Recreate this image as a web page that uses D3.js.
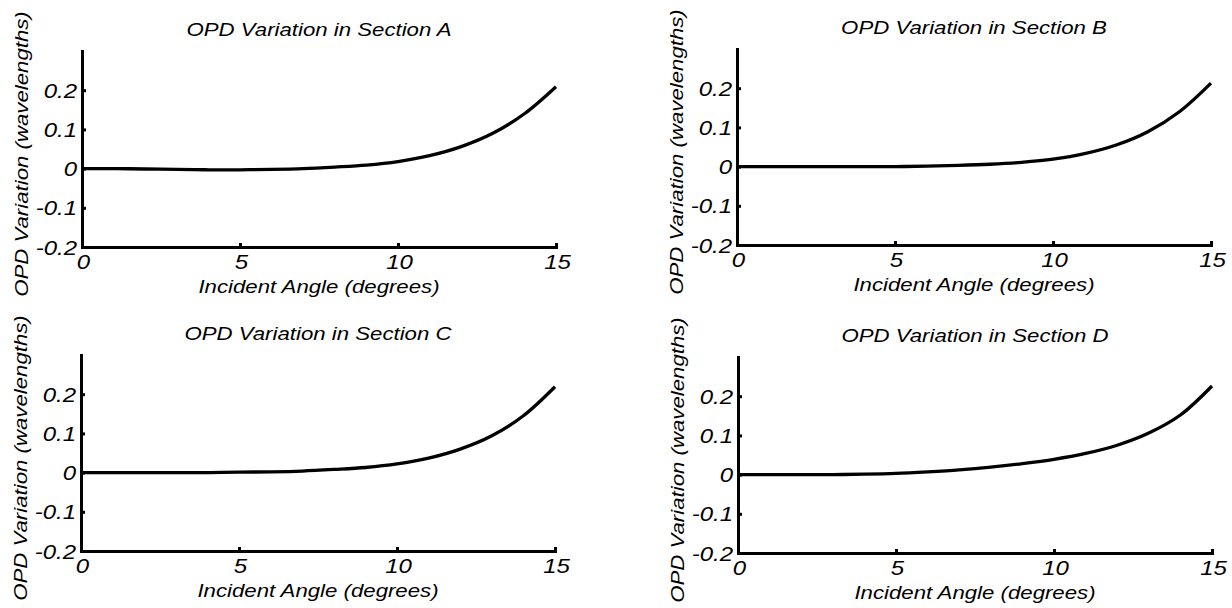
<!DOCTYPE html>
<html>
<head>
<meta charset="utf-8">
<script src="https://cdn.jsdelivr.net/npm/d3@7"></script>
<style>
  body { margin: 0; background: #fff; }
  text { font-family: "Liberation Sans", Arial, sans-serif; font-style: italic; fill: #000; }
</style>
</head>
<body>
<div id="chart-area"></div>
<script>
// data (OPD in wavelengths vs incident angle in degrees)
const angles = [0, 1, 2, 3, 4, 5, 6, 7, 8, 9, 10, 11, 12, 13, 14, 15];
const sectionA = [0, 0, -0.001, -0.002, -0.003, -0.003, -0.002, 0, 0.004, 0.009, 0.018, 0.033, 0.056, 0.090, 0.140, 0.209];
const sectionB = [0, 0, 0, 0, 0, 0, 0.001, 0.003, 0.006, 0.011, 0.019, 0.033, 0.055, 0.089, 0.140, 0.213];
const sectionC = [0, 0, 0, 0, 0, 0.001, 0.002, 0.004, 0.008, 0.013, 0.022, 0.037, 0.060, 0.094, 0.145, 0.219];
const sectionD = [0, 0, 0, 0, 0.001, 0.003, 0.007, 0.012, 0.019, 0.028, 0.039, 0.054, 0.075, 0.106, 0.152, 0.226];
const sectionNames = ["A", "B", "C", "D"];
const xTicks = [0, 5, 10, 15];
const yTicks = [-0.2, -0.1, 0, 0.1, 0.2];

const series = [sectionA, sectionB, sectionC, sectionD];

// panel placement (left/top of each plot box)
const panels = [
  {left: 82, top: 51},
  {left: 737, top: 49},
  {left: 81, top: 355},
  {left: 738, top: 357}
];
const pw = 474, ph = 196;

let svg = d3.select("#chart-area").append("svg")
  .attr("width", 1232)
  .attr("height", 608);

let x = d3.scaleLinear().domain([0, 15]).range([0, pw]);
let y = d3.scaleLinear().domain([-0.2, 0.3]).range([ph, 0]);

let line = d3.line()
  .x((d, i) => x(angles[i]))
  .y(d => y(d))
  .curve(d3.curveCatmullRom.alpha(0.5));

let fmt = d => d === 0 ? "0" : String(d);

series.forEach((vals, k) => {
  let p = panels[k];
  let g = svg.append("g").attr("transform", "translate(" + p.left + "," + p.top + ")");

  // title
  g.append("text")
    .attr("transform", "translate(" + (pw / 2) + ",-15) scale(1.17,1)")
    .attr("text-anchor", "middle")
    .style("font-size", "19px")
    .text("OPD Variation in Section " + sectionNames[k]);

  // axes
  let xAxis = d3.axisBottom(x).tickValues(xTicks).tickFormat(fmt)
    .tickSizeInner(-4).tickSizeOuter(0);
  let yAxis = d3.axisLeft(y).tickValues(yTicks).tickFormat(fmt)
    .tickSizeInner(-4).tickSizeOuter(0);

  let xg = g.append("g").attr("transform", "translate(0," + ph + ")").call(xAxis);
  let yg = g.append("g").call(yAxis);

  [xg, yg].forEach(ax => {
    ax.select(".domain").attr("stroke", "#000").attr("stroke-width", 3).attr("stroke-linecap", "square");
    ax.selectAll(".tick line").attr("stroke", "#000").attr("stroke-width", 3);
    ax.selectAll(".tick text").attr("fill", "#000").style("font-size", "20px").attr("font-family", null);
  });
  xg.selectAll(".tick text")
    .attr("y", null).attr("dy", null)
    .attr("transform", "translate(1,22) scale(1.2,1)");
  yg.selectAll(".tick text")
    .attr("x", null).attr("dy", null)
    .attr("transform", "translate(-5,7) scale(1.2,1)");

  // axis titles
  g.append("text")
    .attr("transform", "translate(" + (pw / 2) + "," + (ph + 46) + ") scale(1.17,1)")
    .attr("text-anchor", "middle")
    .style("font-size", "19px")
    .text("Incident Angle (degrees)");

  g.append("text")
    .attr("transform", "translate(-54," + (ph / 2 + 5) + ") rotate(-90) scale(1.17,1)")
    .attr("text-anchor", "middle")
    .style("font-size", "19px")
    .text("OPD Variation (wavelengths)");

  // curve
  g.append("path")
    .datum(vals)
    .attr("fill", "none")
    .attr("stroke", "#000")
    .attr("stroke-width", 3.3)
    .attr("d", line);
});
</script>
</body>
</html>
